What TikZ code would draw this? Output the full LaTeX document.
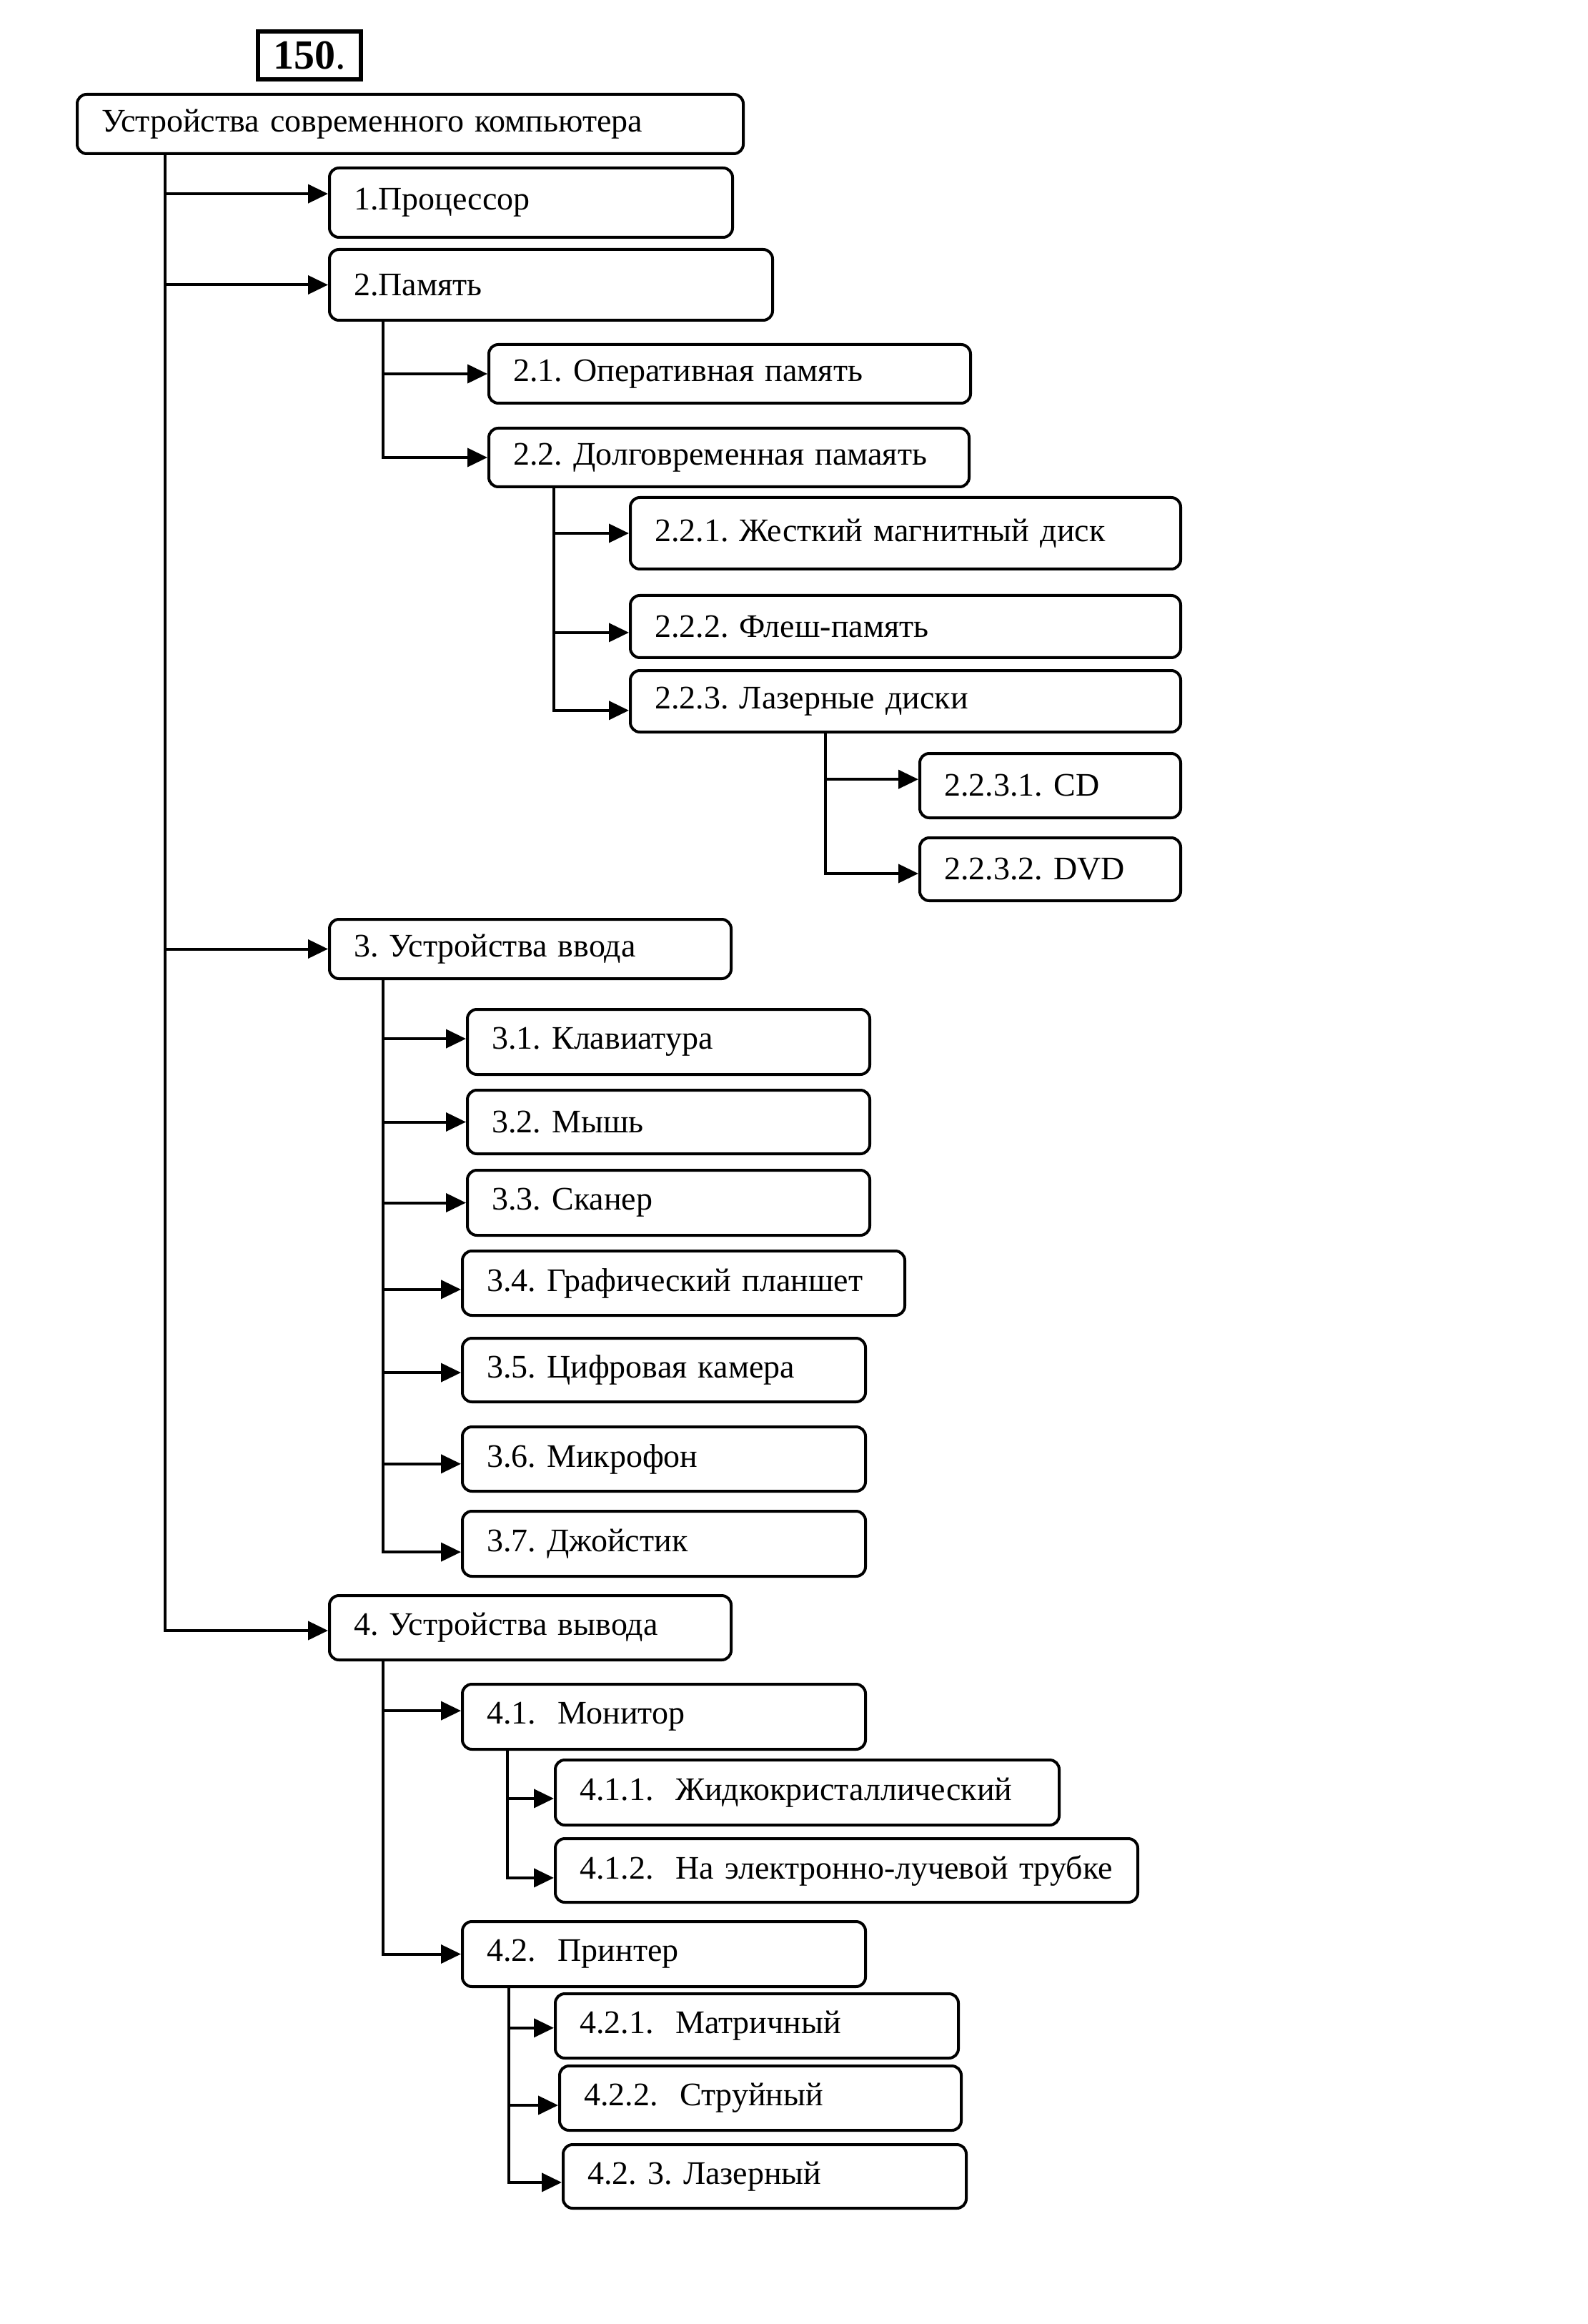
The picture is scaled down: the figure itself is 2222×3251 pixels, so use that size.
\documentclass[tikz,border=0pt]{standalone}
\usepackage{fontspec}
\setmainfont{Liberation Serif}
\usetikzlibrary{arrows.meta}
\begin{document}
\frenchspacing
\begin{tikzpicture}[x=0.25pt,y=-0.25pt,
  box/.style={draw, rounded corners=3.3pt, line width=1pt, inner xsep=8.5pt, inner ysep=0pt,
    align=left, anchor=north west, font=\fontsize{11.5}{14}\selectfont},
  arr/.style={line width=1pt, -{Triangle[length=7pt,width=6.5pt]}}]
\useasboundingbox (0,0) rectangle (2222,3251);
\fill[white] (0,0) rectangle (2222,3251);
% title
\node[draw, line width=1.4pt, anchor=north west, minimum width=36pt, minimum height=16.75pt, inner sep=0pt,
  font=\fontsize{14.5}{16}\selectfont] (num) at (358,41) {\textbf{150}.};
% boxes
\node[box, text width=216pt, minimum height=20.75pt] (main) at (106,130) {\mbox{Устройства современного компьютера}};
\node[box, text width=124pt, minimum height=24.25pt] (n1) at (459,233) {\mbox{1.Процессор}};
\node[box, text width=138pt, minimum height=24.75pt] (n2) at (459,347) {\mbox{2.Память}};
\node[box, text width=151.5pt, minimum height=20.5pt] (n21) at (682,480) {\mbox{2.1. Оперативная память}};
\node[box, text width=151pt, minimum height=20.5pt] (n22) at (682,597) {\mbox{2.2. Долговременная памаять}};
\node[box, text width=175.5pt, minimum height=25pt] (n221) at (880,694) {\mbox{2.2.1. Жесткий магнитный диск}};
\node[box, text width=175.5pt, minimum height=21.75pt] (n222) at (880,831) {\mbox{2.2.2. Флеш-память}};
\node[box, text width=175.5pt, minimum height=21.5pt] (n223) at (880,936) {\mbox{2.2.3. Лазерные диски}};
\node[box, text width=74.25pt, minimum height=22.5pt] (n2231) at (1285,1052) {\mbox{2.2.3.1. CD}};
\node[box, text width=74.25pt, minimum height=22pt] (n2232) at (1285,1170) {\mbox{2.2.3.2. DVD}};
\node[box, text width=123.5pt, minimum height=20.75pt] (n3) at (459,1284) {\mbox{3. Устройства ввода}};
\node[box, text width=123.75pt, minimum height=22.75pt] (n31) at (652,1410) {\mbox{3.1. Клавиатура}};
\node[box, text width=123.75pt, minimum height=22.25pt] (n32) at (652,1523) {\mbox{3.2. Мышь}};
\node[box, text width=123.75pt, minimum height=22.75pt] (n33) at (652,1635) {\mbox{3.3. Сканер}};
\node[box, text width=137.75pt, minimum height=22.5pt] (n34) at (645,1748) {\mbox{3.4. Графический планшет}};
\node[box, text width=124pt, minimum height=22.25pt] (n35) at (645,1870) {\mbox{3.5. Цифровая камера}};
\node[box, text width=124pt, minimum height=22.5pt] (n36) at (645,1994) {\mbox{3.6. Микрофон}};
\node[box, text width=124pt, minimum height=22.75pt] (n37) at (645,2112) {\mbox{3.7. Джойстик}};
\node[box, text width=123.5pt, minimum height=22.5pt] (n4) at (459,2230) {\mbox{4. Устройства вывода}};
\node[box, text width=124pt, minimum height=22.75pt] (n41) at (645,2354) {\mbox{4.1.\ \ Монитор}};
\node[box, text width=159.25pt, minimum height=22.75pt] (n411) at (775,2460) {\mbox{4.1.1.\ \ Жидкокристаллический}};
\node[box, text width=186.75pt, minimum height=22.25pt] (n412) at (775,2570) {\mbox{4.1.2.\ \ На электронно-лучевой трубке}};
\node[box, text width=124pt, minimum height=22.75pt] (n42) at (645,2686) {\mbox{4.2.\ \ Принтер}};
\node[box, text width=124pt, minimum height=22.5pt] (n421) at (775,2787) {\mbox{4.2.1.\ \ Матричный}};
\node[box, text width=123.5pt, minimum height=22.5pt] (n422) at (781,2888) {\mbox{4.2.2.\ \ Струйный}};
\node[box, text width=124pt, minimum height=22.25pt] (n423) at (786,2998) {\mbox{4.2. 3. Лазерный}};
% trunk x positions
\coordinate (t0) at (231,0);
\coordinate (t2) at (536,0);
\coordinate (t22) at (775,0);
\coordinate (t223) at (1155,0);
\coordinate (t3) at (536,0);
\coordinate (t4) at (536,0);
\coordinate (t41) at (710,0);
\coordinate (t42) at (712,0);
% level 1
\draw[arr] (main.south -| t0) |- ([yshift=3.1pt]n1.west);
\draw[arr] (main.south -| t0) |- (n2.west);
\draw[arr] (main.south -| t0) |- (n3.west);
\draw[arr] (main.south -| t0) |- ([yshift=-1pt]n4.west);
% memory
\draw[arr] (n2.south -| t2) |- (n21.west);
\draw[arr] (n2.south -| t2) |- (n22.west);
\draw[arr] (n22.south -| t22) |- (n221.west);
\draw[arr] (n22.south -| t22) |- ([yshift=-2.1pt]n222.west);
\draw[arr] (n22.south -| t22) |- ([yshift=-3.2pt]n223.west);
\draw[arr] (n223.south -| t223) |- ([yshift=2.2pt]n2231.west);
\draw[arr] (n223.south -| t223) |- ([yshift=-1.5pt]n2232.west);
% input
\draw[arr] (n3.south -| t3) |- ([yshift=1.1pt]n31.west);
\draw[arr] (n3.south -| t3) |- (n32.west);
\draw[arr] (n3.south -| t3) |- (n33.west);
\draw[arr] (n3.south -| t3) |- ([yshift=-2.2pt]n34.west);
\draw[arr] (n3.south -| t3) |- ([yshift=-0.9pt]n35.west);
\draw[arr] (n3.south -| t3) |- ([yshift=-1.7pt]n36.west);
\draw[arr] (n3.south -| t3) |- ([yshift=-2.9pt]n37.west);
% output
\draw[arr] (n4.south -| t4) |- ([yshift=2.1pt]n41.west);
\draw[arr] (n4.south -| t4) |- (n42.west);
\draw[arr] (n41.south -| t41) |- ([yshift=-2.1pt]n411.west);
\draw[arr] (n41.south -| t41) |- ([yshift=-2.6pt]n412.west);
\draw[arr] (n42.south -| t42) |- ([yshift=-0.7pt]n421.west);
\draw[arr] (n42.south -| t42) |- ([yshift=-2.5pt]n422.west);
\draw[arr] (n42.south -| t42) |- ([yshift=-2.1pt]n423.west);
\end{tikzpicture}
\end{document}
